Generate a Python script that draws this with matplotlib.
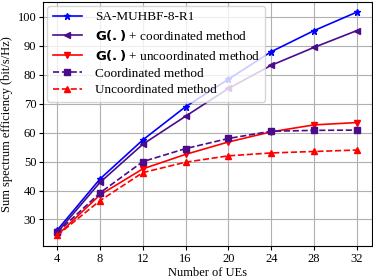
import matplotlib
matplotlib.use("Agg")
import matplotlib.pyplot as plt

plt.rcParams['font.family'] = ['Liberation Serif', 'DejaVu Serif']
plt.rcParams['mathtext.fontset'] = 'dejavusans'

# Data
num_ues = [4, 8, 12, 16, 20, 24, 28, 32]
sa_muhbf = [26.3, 44.0, 57.5, 69.0, 78.5, 88.0, 95.3, 101.7]
g_coord = [25.5, 42.8, 56.0, 65.7, 75.3, 83.3, 89.5, 95.3]
g_uncoord = [24.5, 38.5, 47.5, 52.5, 56.8, 60.3, 62.7, 63.5]
coord = [25.5, 39.2, 50.0, 54.5, 58.0, 60.5, 60.8, 60.9]
uncoord = [24.5, 36.5, 46.2, 49.8, 52.0, 53.0, 53.5, 54.0]

fig, ax = plt.subplots(figsize=(3.73, 2.79), dpi=100)

ax.plot(num_ues, sa_muhbf, '-*', color='#0000ff', lw=1.2, ms=5, label='SA-MUHBF-8-R1')
ax.plot(num_ues, g_coord, '-<', color='#4b0c8c', lw=1.2, ms=4.5,
        label=r'$\mathbf{G(.)}$ + coordinated method')
ax.plot(num_ues, g_uncoord, '-v', color='#ff0000', lw=1.2, ms=4.5,
        label=r'$\mathbf{G(.)}$ + uncoordinated method')
ax.plot(num_ues, coord, '--s', color='#4b0c8c', lw=1.2, ms=4.5, label='Coordinated method')
ax.plot(num_ues, uncoord, '--^', color='#ff0000', lw=1.2, ms=4.5, label='Uncoordinated method')

ax.set_xlim(2.7, 33.4)
ax.set_ylim(20.7, 105.2)
ax.set_xticks(num_ues)
ax.set_yticks([30, 40, 50, 60, 70, 80, 90, 100])
ax.grid(True, color='#b0b0b0', lw=0.8)
ax.tick_params(labelsize=9, length=3, width=0.8, pad=2)
ax.set_xlabel('Number of UEs', fontsize=9, labelpad=1)
ax.set_ylabel('Sum spectrum efficiency (bit/s/Hz)', fontsize=9, labelpad=3)
ax.legend(loc='upper left', fontsize=9.5, framealpha=0.8, handlelength=2.2,
          borderpad=0.4, labelspacing=0.35, handletextpad=1.0,
          borderaxespad=0.3)

fig.subplots_adjust(left=0.116, right=0.997, top=0.993, bottom=0.117)
fig.savefig('out.png', dpi=100)
